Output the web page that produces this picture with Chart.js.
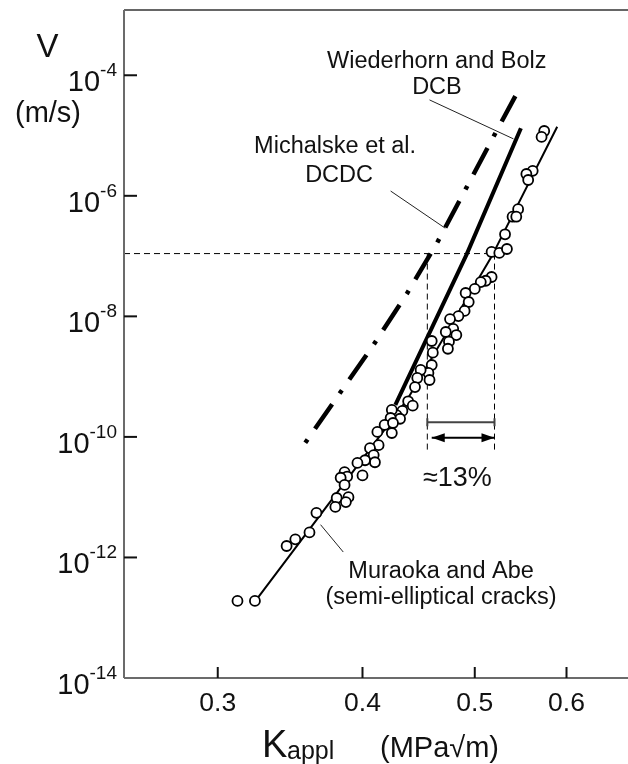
<!DOCTYPE html>
<html>
<head>
<meta charset="utf-8">
<script src="https://cdn.jsdelivr.net/npm/chart.js@4.4.1/dist/chart.umd.min.js"></script>
<style>
  html, body { margin: 0; padding: 0; background: #fff; overflow: hidden; }
  #wrap { width: 628px; height: 764px; position: relative; }
  #grafico { display: block; }
</style>
</head>
<body>
<div id="wrap"><canvas id="grafico"></canvas></div>
<script>
// ================== DATA ==================

// Muraoka and Abe, semi-elliptical cracks: K_appl (MPa√m) and v (m/s)
const kMuraoka = [0.574, 0.571, 0.561, 0.554, 0.556, 0.545, 0.539, 0.543, 0.531, 0.517,
                  0.525, 0.533, 0.517, 0.511, 0.506, 0.500, 0.491, 0.494, 0.490, 0.484,
                  0.476, 0.479, 0.472, 0.482, 0.475, 0.474, 0.459, 0.460, 0.459, 0.456,
                  0.457, 0.449, 0.446, 0.444, 0.438, 0.442, 0.433, 0.428, 0.424, 0.431,
                  0.423, 0.418, 0.425, 0.424, 0.412, 0.413, 0.406, 0.409, 0.410, 0.402,
                  0.396, 0.386, 0.388, 0.400, 0.383, 0.386, 0.389, 0.380, 0.387, 0.379,
                  0.365, 0.360, 0.350, 0.344, 0.323, 0.312];
const vMuraoka = [1.19e-5, 9.5e-6, 2.6e-6, 2.3e-6, 1.83e-6, 6.0e-7, 4.5e-7, 4.5e-7, 2.3e-7, 1.17e-7,
                  1.13e-7, 1.31e-7, 4.5e-8, 3.9e-8, 3.7e-8, 2.85e-8, 2.44e-8, 1.73e-8, 1.23e-8, 1.01e-8,
                  9.0e-9, 6.2e-9, 5.5e-9, 4.9e-9, 3.8e-9, 2.9e-9, 3.9e-9, 2.5e-9, 1.56e-9, 1.15e-9,
                  8.8e-10, 1.29e-9, 9.5e-10, 6.7e-10, 3.9e-10, 3.3e-10, 2.7e-10, 2.3e-10, 2.8e-10, 2.0e-10,
                  2.06e-10, 1.58e-10, 1.7e-10, 1.16e-10, 1.21e-10, 7.3e-11, 6.5e-11, 5.0e-11, 3.8e-11, 4.1e-11,
                  3.7e-11, 2.6e-11, 2.2e-11, 2.3e-11, 2.1e-11, 1.6e-11, 1.0e-11, 9.7e-12, 8.3e-12, 6.9e-12,
                  5.5e-12, 2.6e-12, 2.0e-12, 1.55e-12, 1.9e-13, 1.9e-13];

// thin fitted line through the Muraoka data
const kMuraokaFit = [0.323, 0.437, 0.517, 0.589];
const vMuraokaFit = [1.85e-13, 4.1e-10, 9.8e-8, 1.4e-5];

// Wiederhorn and Bolz, DCB (thick solid)
const kWiederhorn = [0.427, 0.492, 0.548];
const vWiederhorn = [3.4e-10, 1.07e-7, 1.32e-5];

// Michalske et al., DCDC (dash-dot)
const kMichalske = [0.357, 0.409, 0.437, 0.464, 0.491, 0.519, 0.542];
const vMichalske = [8.0e-11, 3.4e-9, 2.4e-8, 1.67e-7, 1.29e-6, 9.6e-6, 4.5e-5];

// axes
const kMin = 0.249, kMax = 0.678;
const vMin = 1e-14, vMax = 1.21e-3;
const xTicks = [0.3, 0.4, 0.5, 0.6];
const yTickExps = [-4, -6, -8, -10, -12, -14];

// ≈13 % construction
const vRef = 1.1e-7;
const kRefLeft = 0.455, kRefRight = 0.52;
const vRefLow = 5.4e-11;
const vBracket = 1.75e-10;
const vArrow = 9.7e-11;
const kArrowLeft = 0.459;

// leader lines [k1, v1, k2, v2]
const leaderWiederhorn = [0.457, 3.9e-5, 0.540, 8.8e-6];
const leaderMichalske = [0.423, 1.2e-6, 0.4715, 2.9e-7];
const leaderMuraoka = [0.368, 3.5e-12, 0.385, 1.23e-12];

// labels: text, k (centre), v (baseline)
const notes = [
    { text: 'Wiederhorn and Bolz', k: 0.4636, v: 1.32e-4, size: 23.5 },
    { text: 'DCB', k: 0.4638, v: 4.9e-5, size: 23.5 },
    { text: 'Michalske et al.', k: 0.3788, v: 5.1e-6, size: 23.5 },
    { text: 'DCDC', k: 0.3818, v: 1.70e-6, size: 23.5 },
    { text: 'Muraoka and Abe', k: 0.4676, v: 4.6e-13, size: 23.5 },
    { text: '(semi-elliptical cracks)', k: 0.4676, v: 1.7e-13, size: 23.5 },
    { text: '≈13%', k: 0.483, v: 1.53e-11, size: 27 }
];

const FONT = '"Liberation Sans", Arial, Helvetica, sans-serif';

const pts = (ks, vs) => ks.map((k, i) => ({ x: k, y: vs[i] }));
const seg = (l) => [{ x: l[0], y: l[1] }, { x: l[2], y: l[3] }];

function lineStyle(extra) {
    return Object.assign({
        showLine: true, fill: false, tension: 0, pointRadius: 0,
        borderColor: '#000', borderWidth: 1
    }, extra);
}

function line(ctx, x1, y1, x2, y2) {
    ctx.beginPath();
    ctx.moveTo(x1, y1);
    ctx.lineTo(x2, y2);
    ctx.stroke();
}

function arrowHead(ctx, tipX, tipY, dir) {
    ctx.beginPath();
    ctx.moveTo(tipX, tipY);
    ctx.lineTo(tipX - dir * 13, tipY - 4.5);
    ctx.lineTo(tipX - dir * 13, tipY + 4.5);
    ctx.closePath();
    ctx.fill();
}

// ================== FRAME, TICKS, TEXT ==================
const decor = {
    id: 'decor',
    afterDraw(chart) {
        const { ctx, chartArea: a, scales: { x, y } } = chart;
        ctx.save();

        // frame
        ctx.lineWidth = 1.5;
        ctx.strokeStyle = '#333';
        line(ctx, a.left, a.top, a.right, a.top);
        ctx.lineWidth = 2;
        ctx.strokeStyle = '#6b6b6b';
        line(ctx, a.left, a.top, a.left, a.bottom);
        line(ctx, a.left, a.bottom, a.right, a.bottom);

        // inward tick marks
        ctx.strokeStyle = '#111';
        ctx.lineWidth = 2;
        xTicks.forEach(k => {
            const px = x.getPixelForValue(k);
            line(ctx, px, a.bottom, px, a.bottom - 11);
        });
        yTickExps.forEach(e => {
            const py = y.getPixelForValue(Math.pow(10, e));
            if (py < a.bottom - 2) line(ctx, a.left, py, a.left + 13, py);
        });

        ctx.fillStyle = '#111';
        ctx.textBaseline = 'alphabetic';

        // x tick labels
        ctx.textAlign = 'center';
        ctx.font = '26.5px ' + FONT;
        xTicks.forEach(k => ctx.fillText(String(k), x.getPixelForValue(k), a.bottom + 33));

        // y tick labels 10^n
        ctx.textAlign = 'left';
        yTickExps.forEach(e => {
            const py = y.getPixelForValue(Math.pow(10, e));
            ctx.font = '29px ' + FONT;
            const wb = ctx.measureText('10').width;
            ctx.font = '19px ' + FONT;
            const ws = ctx.measureText(String(e)).width;
            const x0 = a.left - 7 - wb - ws;
            ctx.font = '29px ' + FONT;
            ctx.fillText('10', x0, py + 16);
            ctx.font = '19px ' + FONT;
            ctx.fillText(String(e), x0 + wb, py + 1);
        });

        // axis titles
        ctx.textAlign = 'center';
        ctx.font = '33px ' + FONT;
        ctx.fillText('V', 47.5, 57);
        ctx.font = '29px ' + FONT;
        ctx.fillText('(m/s)', 48, 122);

        ctx.textAlign = 'left';
        ctx.font = '38px ' + FONT;
        ctx.fillText('K', 262, 757);
        ctx.font = '25px ' + FONT;
        ctx.fillText('appl', 287, 759);
        ctx.font = '29px ' + FONT;
        ctx.fillText('(MPa√m)', 380, 757);

        // annotations
        ctx.textAlign = 'center';
        notes.forEach(n => {
            ctx.font = n.size + 'px ' + FONT;
            ctx.fillText(n.text, x.getPixelForValue(n.k), y.getPixelForValue(n.v));
        });

        // bracket end caps
        ctx.strokeStyle = '#444';
        ctx.lineWidth = 2;
        const yb = y.getPixelForValue(vBracket);
        [kRefLeft, kRefRight].forEach(k => {
            const px = x.getPixelForValue(k);
            line(ctx, px, yb - 4, px, yb + 4);
        });

        // double arrow heads
        ctx.fillStyle = '#000';
        const ya = y.getPixelForValue(vArrow);
        arrowHead(ctx, x.getPixelForValue(kArrowLeft), ya, -1);
        arrowHead(ctx, x.getPixelForValue(kRefRight), ya, 1);

        ctx.restore();
    }
};

// ================== CHART ==================
const ctx = document.getElementById('grafico').getContext('2d');

new Chart(ctx, {
    type: 'scatter',
    data: {
        datasets: [
            {   // measured points (drawn on top)
                data: pts(kMuraoka, vMuraoka),
                pointRadius: 5,
                pointBorderWidth: 1.8,
                pointBackgroundColor: '#fff',
                pointBorderColor: '#000'
            },
            lineStyle({ data: pts(kMuraokaFit, vMuraokaFit), borderWidth: 2 }),
            lineStyle({ data: pts(kWiederhorn, vWiederhorn), borderWidth: 4 }),
            lineStyle({ data: pts(kMichalske, vMichalske), borderWidth: 4.5, borderDash: [4, 13, 30, 13] }),
            lineStyle({ data: [{ x: kMin, y: vRef }, { x: kRefRight, y: vRef }], borderDash: [6, 4] }),
            lineStyle({ data: [{ x: kRefLeft, y: vRef }, { x: kRefLeft, y: vRefLow }], borderDash: [6, 4] }),
            lineStyle({ data: [{ x: kRefRight, y: vRef }, { x: kRefRight, y: vRefLow }], borderDash: [6, 4] }),
            lineStyle({ data: [{ x: kRefLeft, y: vBracket }, { x: kRefRight, y: vBracket }], borderWidth: 2, borderColor: '#444' }),
            lineStyle({ data: [{ x: kArrowLeft, y: vArrow }, { x: kRefRight, y: vArrow }], borderWidth: 2 }),
            lineStyle({ data: seg(leaderWiederhorn), borderColor: '#222' }),
            lineStyle({ data: seg(leaderMichalske), borderColor: '#222' }),
            lineStyle({ data: seg(leaderMuraoka), borderColor: '#222' })
        ]
    },
    options: {
        responsive: true,
        maintainAspectRatio: false,
        animation: false,
        layout: { autoPadding: false, padding: { top: 10, left: 0, right: 0, bottom: 0 } },
        plugins: { legend: { display: false }, tooltip: { enabled: false } },
        scales: {
            x: {
                type: 'logarithmic', min: kMin, max: kMax, bounds: 'data',
                grid: { display: false }, border: { display: false },
                ticks: { display: false },
                afterFit: s => { s.height = 86; }
            },
            y: {
                type: 'logarithmic', min: vMin, max: vMax, bounds: 'data',
                grid: { display: false }, border: { display: false },
                ticks: { display: false },
                afterFit: s => { s.width = 124; }
            }
        }
    },
    plugins: [decor]
});
</script>
</body>
</html>
